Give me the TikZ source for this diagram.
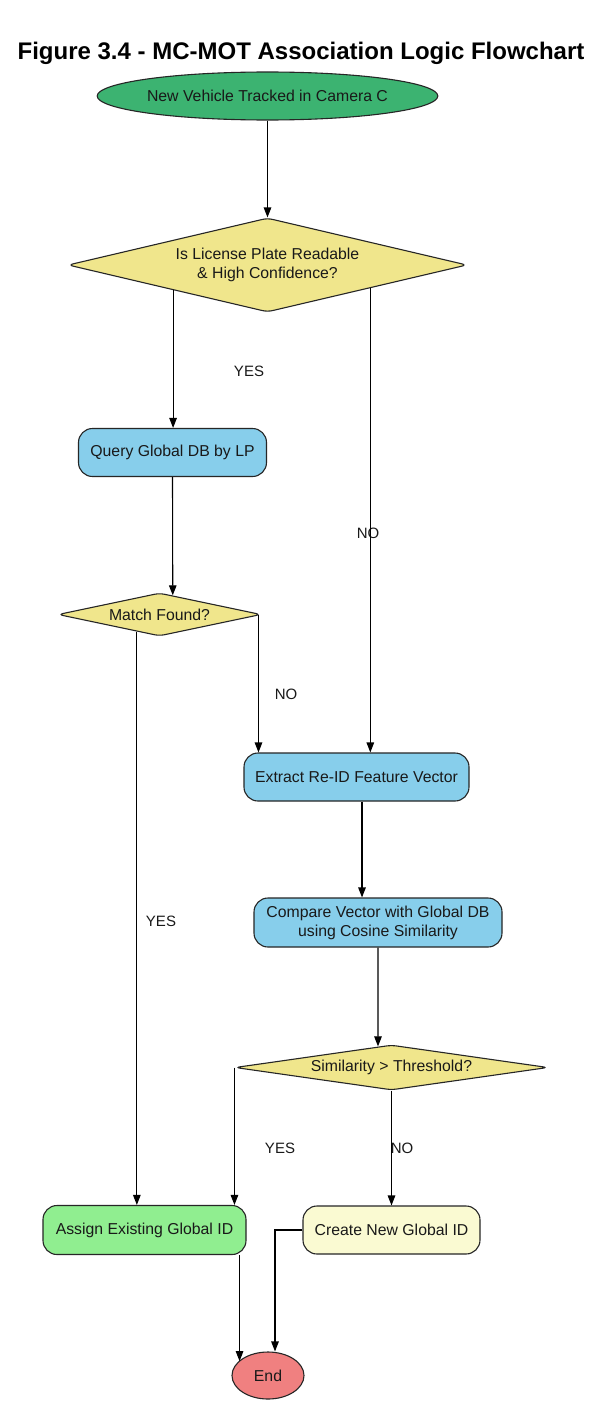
\documentclass[tikz,border=0pt]{standalone}
\usepackage{fontspec}
\setmainfont{Liberation Sans}
\usetikzlibrary{shapes.geometric,arrows.meta,calc}
\definecolor{cstart}{HTML}{3CB371}
\definecolor{khakic}{HTML}{F0E68C}
\definecolor{skyc}{HTML}{87CEEB}
\definecolor{lgreenc}{HTML}{90EE90}
\definecolor{lyellowc}{HTML}{FAFAD2}
\definecolor{lcoralc}{HTML}{F08080}
\begin{document}
\begin{tikzpicture}[x=1pt,y=-1pt,
  every node/.style={font=\fontsize{15.8}{19}\selectfont, inner sep=0pt, text=black!90, align=center},
  proc/.style={draw=black!85, line width=1.1pt, rounded corners=14pt, fill=skyc, rectangle},
  dec/.style={diamond, draw=black!85, line width=1.1pt, rounded corners=5pt, fill=khakic},
  term/.style={ellipse, draw=black!85, line width=1.1pt},
  arr/.style={draw=black, line width=1.1pt, -{Triangle[length=10pt,width=7.5pt]}},
  lab/.style={font=\fontsize{15}{18}\selectfont}
]
\useasboundingbox (0,0) rectangle (602,1405);
\fill[white] (0,0) rectangle (602,1405);

\node[font=\fontsize{24}{28}\selectfont\bfseries, text=black] (title) at (301,53) {Figure 3.4 - MC-MOT Association Logic Flowchart};

\node[term, fill=cstart, minimum width=340pt, minimum height=48pt] (st) at (267.5,96) {New Vehicle Tracked in Camera C};
\node[dec, aspect=4.2, minimum width=399pt, minimum height=94pt] (d1) at (267.5,265) {Is License Plate Readable\\\& High Confidence?};
\node[proc, minimum width=188pt, minimum height=48pt] (q) at (172.5,452.5) {Query Global DB by LP};
\node[dec, aspect=4.7, minimum width=203pt, minimum height=43pt] (m) at (159.5,614.5) {Match Found?};
\node[proc, minimum width=225pt, minimum height=48pt] (ex) at (356.5,777) {Extract Re-ID Feature Vector};
\node[proc, minimum width=248pt, minimum height=49pt] (cmp) at (378,922.5) {Compare Vector with Global DB\\using Cosine Similarity};
\node[dec, aspect=7, minimum width=313pt, minimum height=45pt] (d3) at (391.5,1067.5) {Similarity > Threshold?};
\node[proc, fill=lgreenc, minimum width=203pt, minimum height=49pt] (as) at (144.5,1230) {Assign Existing Global ID};
\node[proc, fill=lyellowc, minimum width=177pt, minimum height=48pt] (cr) at (391.5,1230) {Create New Global ID};
\node[term, fill=lcoralc, minimum width=72pt, minimum height=47pt] (en) at (268,1375.5) {End};

% labels
\node[lab] (y1) at (249,371) {YES};
\node[lab] (n1) at (368,533) {NO};
\node[lab] (n2) at (286,694) {NO};
\node[lab] (y2) at (161,921) {YES};
\node[lab] (y3) at (280,1148) {YES};
\node[lab] (n3) at (402,1148) {NO};

% connectors
\draw[arr] (st.south) -- (d1.north);
\draw[arr] ($(d1.south)!0.472!(d1.west)$) coordinate (a1) -- (a1 |- q.north);
\draw[arr] ($(d1.south)!0.514!(d1.east)$) coordinate (a2) -- (a2 |- ex.north);
\draw[arr] (q.south) -- ($(m.north)!0.13!(m.east)$);
\draw[arr] ($(m.south)!0.222!(m.west)$) coordinate (a3) -- (a3 |- as.north);
\draw[arr] ($(m.south)!0.97!(m.east)$) coordinate (a4) -- (a4 |- ex.north);
\draw[arr] ([xshift=5.5pt]ex.south) coordinate (a5) -- (a5 |- cmp.north);
\draw[arr] (cmp.south) -- ($(d3.north)!0.086!(d3.west)$);
\draw[arr] (d3.west) -- (d3.west |- as.north);
\draw[arr] (d3.south) -- (cr.north);
\draw[arr] ([xshift=-7pt]as.south east) coordinate (a6) -- (a6 |- en.154);
\draw[arr] (cr.west) -| ([xshift=7pt]en.north);
\end{tikzpicture}
\end{document}
